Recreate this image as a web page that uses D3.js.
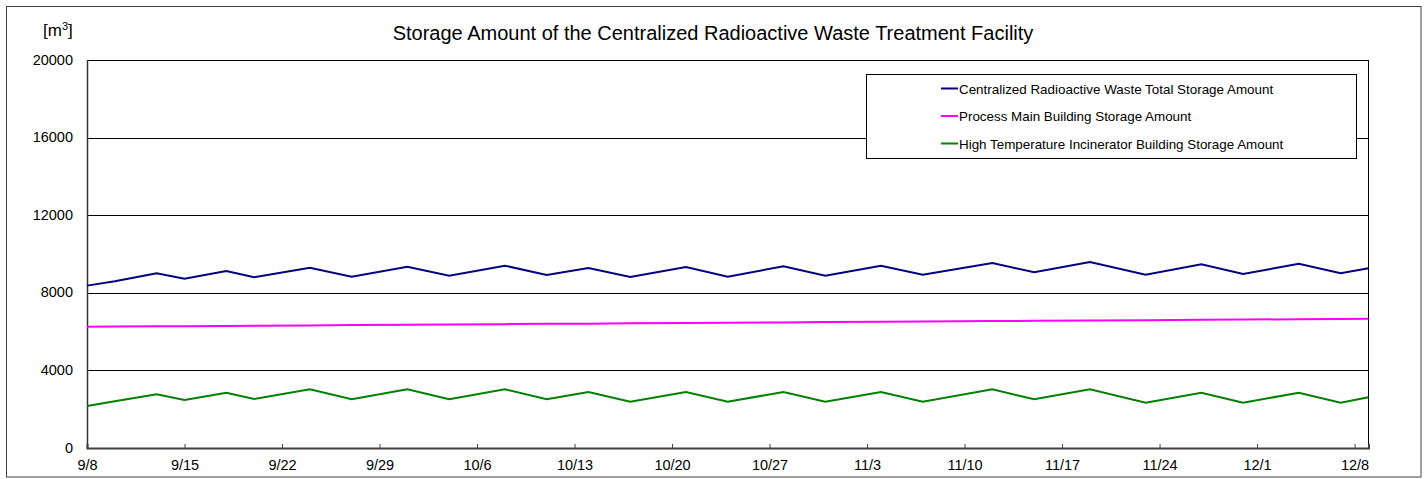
<!DOCTYPE html>
<html>
<head>
<meta charset="utf-8">
<script src="https://cdn.jsdelivr.net/npm/d3@7"></script>
<style>
  html, body { margin: 0; padding: 0; background: #fff; }
  text { font-family: "Liberation Sans", Arial, sans-serif; fill: #000; }
</style>
</head>
<body>
<svg id="chart" width="1426" height="479"></svg>
<script>
// ---- data ----
const dates = ["2014-09-08","2014-09-10","2014-09-13","2014-09-15","2014-09-18","2014-09-20","2014-09-24","2014-09-27",
  "2014-10-01","2014-10-04","2014-10-08","2014-10-11","2014-10-14","2014-10-17","2014-10-21","2014-10-24",
  "2014-10-28","2014-10-31","2014-11-04","2014-11-07","2014-11-12","2014-11-15","2014-11-19","2014-11-23",
  "2014-11-27","2014-11-30","2014-12-04","2014-12-07","2014-12-09"];
const totalStorage = [8370, 8590, 9005, 8727, 9124, 8800, 9294, 8830,
  9346, 8880, 9397, 8918, 9278, 8814, 9330, 8830,
  9366, 8880, 9397, 8933, 9536, 9057, 9588, 8933,
  9469, 8969, 9500, 9005, 9263];
const processMain = [6250, 6260, 6270, 6280, 6290, 6300, 6320, 6335,
  6350, 6365, 6385, 6400, 6410, 6425, 6445, 6460,
  6475, 6490, 6505, 6520, 6545, 6555, 6575, 6590,
  6610, 6620, 6640, 6655, 6665];
const incinerator = [2165, 2405, 2768, 2474, 2851, 2526, 3026, 2510,
  3026, 2510, 3026, 2510, 2887, 2387, 2887, 2387,
  2887, 2387, 2887, 2387, 3026, 2510, 3026, 2335,
  2851, 2335, 2851, 2335, 2613];
const xTickLabels = ["9/8","9/15","9/22","9/29","10/6","10/13","10/20","10/27","11/3","11/10","11/17","11/24","12/1","12/8"];
const xTickDates = ["2014-09-08","2014-09-15","2014-09-22","2014-09-29","2014-10-06","2014-10-13","2014-10-20",
  "2014-10-27","2014-11-03","2014-11-10","2014-11-17","2014-11-24","2014-12-01","2014-12-08"];
const yTicks = [0, 4000, 8000, 12000, 16000, 20000];
const seriesNames = ["Centralized Radioactive Waste Total Storage Amount",
  "Process Main Building Storage Amount",
  "High Temperature Incinerator Building Storage Amount"];
const seriesColors = ["#000080", "#FF00FF", "#008000"];
const xDomain = ["2014-09-08", "2014-12-09"];
const titleText = "Storage Amount of the Centralized Radioactive Waste Treatment Facility";

// ---- chart ----
const parse = d3.utcParse("%Y-%m-%d");
const svg = d3.select("#chart");
const W = 1426, H = 479;
const plot = {left: 87, right: 1368.5, top: 60, bottom: 448};
const FONT = "Liberation Sans, Arial, sans-serif";

svg.append("rect").attr("x", 0).attr("y", 0).attr("width", W).attr("height", H).attr("fill", "#fff");
svg.append("rect").attr("x", 6.5).attr("y", 6.5).attr("width", 1414.5).attr("height", 470.5)
  .attr("fill", "none").attr("stroke", "#404040").attr("stroke-width", 1);

const x = d3.scaleUtc().domain(xDomain.map(parse)).range([plot.left, plot.right]);
const y = d3.scaleLinear().domain([0, 20000]).range([plot.bottom, plot.top]);

// gridlines (including top border)
svg.append("g").selectAll("line").data(yTicks.filter(v => v > 0)).join("line")
  .attr("x1", plot.left).attr("x2", plot.right)
  .attr("y1", d => Math.round(y(d)) + 0.5).attr("y2", d => Math.round(y(d)) + 0.5)
  .attr("stroke", "#000").attr("stroke-width", 1);
// right border
svg.append("line").attr("x1", plot.right).attr("x2", plot.right)
  .attr("y1", plot.top).attr("y2", plot.bottom).attr("stroke", "#000").attr("stroke-width", 1);

// y axis
const yAxis = d3.axisLeft(y).tickValues(yTicks).tickSize(0).tickPadding(14).tickFormat(d3.format("d"));
const gy = svg.append("g").attr("transform", `translate(${plot.left},0)`).call(yAxis);
gy.select(".domain").attr("stroke", "#333").attr("stroke-width", 1.5);
gy.selectAll("text").attr("font-size", 14.5).attr("font-family", FONT).attr("fill", "#000").attr("dy", "0.28em");

// x axis
const xAxis = d3.axisBottom(x).tickValues(xTickDates.map(parse)).tickSize(-4).tickPadding(12)
  .tickFormat((d, i) => xTickLabels[i]);
const gx = svg.append("g").attr("transform", `translate(0,${plot.bottom})`).call(xAxis);
gx.select(".domain").attr("stroke", "#404040").attr("stroke-width", 2);
gx.selectAll(".tick line").attr("stroke", "#404040").attr("stroke-width", 1);
gx.selectAll("text").attr("font-size", 14.5).attr("font-family", FONT).attr("fill", "#000");

// lines
const allSeries = [totalStorage, processMain, incinerator];
const line = d3.line().x(d => x(d.date)).y(d => y(d.v));
allSeries.forEach((vals, si) => {
  const pts = dates.map((d, i) => ({date: parse(d), v: vals[i]}));
  svg.append("path").datum(pts).attr("d", line)
    .attr("fill", "none").attr("stroke", seriesColors[si]).attr("stroke-width", 2)
    .attr("stroke-linejoin", "miter");
});

// title
svg.append("text").attr("x", 713).attr("y", 40).attr("text-anchor", "middle")
  .attr("font-size", 20).text(titleText);

// unit label
const unit = svg.append("text").attr("x", 43).attr("y", 36).attr("font-size", 17);
unit.append("tspan").text("[m");
unit.append("tspan").attr("font-size", 11).attr("dy", -6).text("3");
unit.append("tspan").attr("dy", 6).text("]");

// legend
const leg = svg.append("g");
leg.append("rect").attr("x", 866.5).attr("y", 74.5).attr("width", 490).attr("height", 84)
  .attr("fill", "#fff").attr("stroke", "#000").attr("stroke-width", 1);
const legY = [88.5, 116, 143.5];
seriesNames.forEach((n, i) => {
  leg.append("line").attr("x1", 941).attr("x2", 958).attr("y1", legY[i]).attr("y2", legY[i])
    .attr("stroke", seriesColors[i]).attr("stroke-width", 2);
  leg.append("text").attr("x", 959).attr("y", legY[i] + 5).attr("font-size", 13.4).text(n);
});
</script>
</body>
</html>
